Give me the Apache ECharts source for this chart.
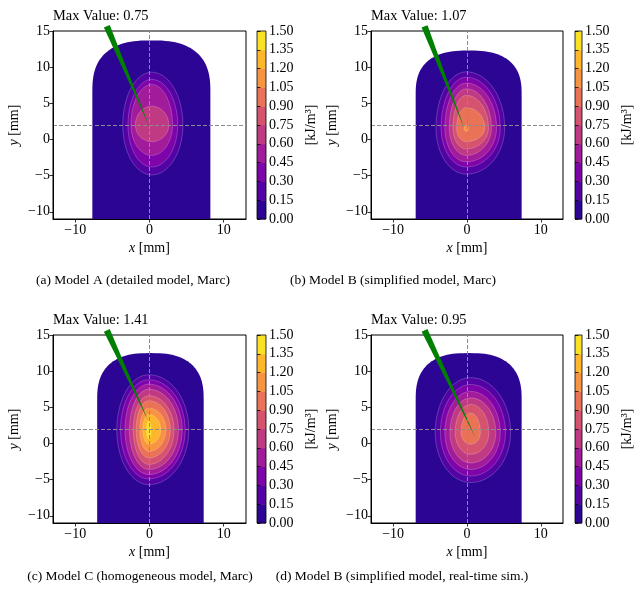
<!DOCTYPE html>
<html>
<head>
<meta charset="utf-8">
<script src="https://cdn.jsdelivr.net/npm/echarts@6/dist/echarts.min.js"></script>
<style>
  html, body { margin: 0; padding: 0; background: #fff; }
  #chart { width: 635px; height: 595px; }
</style>
</head>
<body>
<div id="chart"></div>
<script>
// colour levels of the contour plot (colorbar ticks)
const levels = [0, 0.15, 0.3, 0.45, 0.6, 0.75, 0.9, 1.05, 1.2, 1.35, 1.5];
const xTicks = [-10, 0, 10];
const yTicks = [-10, -5, 0, 5, 10, 15];

const maxValues = [0.75, 1.07, 1.41, 0.95];
const captions = [
    '(a) Model A (detailed model, Marc)',
    '(b) Model B (simplified model, Marc)',
    '(c) Model C (homogeneous model, Marc)',
    '(d) Model B (simplified model, real-time sim.)'
];

// model domain: [left, right, y where straight sides end, top]
const domainA = [-7.7, 8.2, 6.6, 13.7];
const domainB = [-6.95, 7.4, 6.2, 12.3];
const domainC = [-7.05, 7.3, 6.0, 12.5];
const domainD = [-6.95, 7.4, 6.0, 12.5];

// centre of the hot spot [x, y]
const peakA = [0.3, 2.0];
const peakB = [-0.1, 1.6];
const peakC = [-0.1, 1.9];
const peakD = [0.5, 1.5];

// contour extents for levels 0.15, 0.30, ... : [xmin, xmax, ymin, ymax]
const contoursA = [
    [-3.6, 4.5, -4.9, 9.3],
    [-2.9, 3.8, -3.8, 8.3],
    [-2.5, 3.1, -2.2, 7.6],
    [-1.9, 2.6, -0.3, 4.6]
];
const contoursB = [
    [-4.2, 5.1, -4.8, 9.35],
    [-3.5, 4.5, -3.8, 8.6],
    [-3.0, 4.0, -3.1, 7.8],
    [-2.4, 3.3, -2.2, 7.0],
    [-1.9, 2.9, -1.3, 6.1],
    [-1.4, 2.4, -0.3, 4.4],
    [-0.4, 0.2, 1.1, 1.9]
];
const contoursC = [
    [-4.4, 5.3, -5.7, 9.5],
    [-3.9, 4.8, -4.9, 8.8],
    [-3.3, 4.4, -4.3, 8.2],
    [-2.7, 3.9, -3.6, 7.5],
    [-2.2, 3.3, -2.9, 6.6],
    [-1.8, 2.8, -2.0, 5.9],
    [-1.3, 2.2, -1.1, 4.9],
    [-0.9, 1.5, -0.1, 4.0],
    [-0.4, 0.2, 0.6, 3.1]
];
const contoursD = [
    [-4.3, 5.9, -5.4, 9.1],
    [-3.6, 5.2, -4.5, 8.15],
    [-3.0, 4.5, -3.6, 7.2],
    [-2.3, 3.9, -2.7, 6.3],
    [-1.6, 2.95, -1.5, 5.4],
    [-0.8, 1.8, -0.1, 4.2]
];

// probe needle: common upper end and tip per panel
const needleTop = [-5.75, 15.65];
const tipA = [0.0, 1.75];
const tipB = [-0.35, 1.55];
const tipC = [-0.2, 3.2];
const tipD = [1.15, 0.8];

// crosshair position
const crossX = 0;
const crossY = 2;

// plasma colours at the middle of each band
const bandColors = ['#2d0594', '#5302a3', '#7e03a8', '#a11b9b', '#c03a83',
    '#d5536f', '#e97257', '#f89441', '#feb72d', '#f7e225'];

const FONT = '"Liberation Serif", "DejaVu Serif", serif';

const panels = [
    { domain: domainA, peak: peakA, contours: contoursA, tip: tipA, left: 53, top: 31, w: 193, cb: 257 },
    { domain: domainB, peak: peakB, contours: contoursB, tip: tipB, left: 371, top: 31, w: 192, cb: 575 },
    { domain: domainC, peak: peakC, contours: contoursC, tip: tipC, left: 53, top: 335, w: 193, cb: 257 },
    { domain: domainD, peak: peakD, contours: contoursD, tip: tipD, left: 371, top: 335, w: 192, cb: 575 }
];
const PH = 188;

const fmtMinus = v => (v < 0 ? '\u2212' + Math.abs(v) : String(v));

function domainItem(params, api) {
    const l = api.value(0), r = api.value(1), sh = api.value(2), t = api.value(3);
    const mid = (l + r) / 2, rx = (r - l) / 2, ry = t - sh;
    const pts = [api.coord([l, -12])];
    const n = 2.6;
    for (let k = 0; k <= 60; k++) {
        const a = Math.PI - k / 60 * Math.PI;
        const c = Math.cos(a), s = Math.sin(a);
        const cx = Math.sign(c) * Math.pow(Math.abs(c), 2 / n);
        const sy = Math.pow(Math.abs(s), 2 / n);
        pts.push(api.coord([mid + rx * cx, sh + ry * sy]));
    }
    pts.push(api.coord([r, -12]));
    return { type: 'polygon', shape: { points: pts }, style: { fill: bandColors[0] } };
}

function contourItem(params, api) {
    const lvl = api.value(0), cx = api.value(1), cy = api.value(2);
    const x0 = api.value(3), x1 = api.value(4), y0 = api.value(5), y1 = api.value(6);
    const pts = [];
    for (let k = 0; k < 80; k++) {
        const a = k / 80 * 2 * Math.PI;
        const c = Math.cos(a), s = Math.sin(a);
        const rx = c >= 0 ? x1 - cx : cx - x0;
        const ry = s >= 0 ? y1 - cy : cy - y0;
        pts.push(api.coord([cx + rx * c, cy + ry * s]));
    }
    return {
        type: 'polygon', shape: { points: pts },
        style: { fill: bandColors[lvl], stroke: 'rgba(255,255,255,0.3)', lineWidth: 0.7 }
    };
}

function needleItem(params, api) {
    const p0 = api.coord([api.value(0), api.value(1)]);
    const p1 = api.coord([api.value(2), api.value(3)]);
    const dx = p1[0] - p0[0], dy = p1[1] - p0[1];
    const len = Math.sqrt(dx * dx + dy * dy);
    const nx = -dy / len * 3.2, ny = dx / len * 3.2;
    return {
        type: 'polygon',
        shape: { points: [[p0[0] + nx, p0[1] + ny], [p0[0] - nx, p0[1] - ny], p1] },
        style: { fill: '#008000' }
    };
}

function colorbarItem(params, api) {
    const idx = api.value(2);
    const a = api.coord([0, api.value(0)]);
    const b = api.coord([1, api.value(1)]);
    if (idx < 0) {
        return { type: 'rect', shape: { x: a[0], y: b[1], width: b[0] - a[0], height: a[1] - b[1] },
            style: { fill: 'none', stroke: '#000', lineWidth: 0.8 } };
    }
    return { type: 'rect', shape: { x: a[0], y: b[1], width: b[0] - a[0], height: a[1] - b[1] + 0.5 },
        style: { fill: bandColors[idx] } };
}

const grid = [], xAxis = [], yAxis = [], series = [], title = [], graphic = [];
const tickStyle = { show: true, inside: false, length: 3.5, lineStyle: { color: '#000', width: 0.8 } };

panels.forEach((p, i) => {
    const gi = i * 2, ci = i * 2 + 1;
    grid.push({ left: p.left, top: p.top, width: p.w, height: PH, show: true,
        borderColor: '#000', borderWidth: 1, backgroundColor: 'transparent' });
    grid.push({ left: p.cb, top: p.top, width: 9, height: PH });

    xAxis.push({
        gridIndex: gi, type: 'value', min: -13, max: 13, z: 10,
        axisLine: { show: true, onZero: false, lineStyle: { color: '#000', width: 1 } },
        axisTick: Object.assign({ customValues: xTicks }, tickStyle),
        axisLabel: { customValues: xTicks, formatter: fmtMinus, color: '#000', fontFamily: FONT, fontSize: 14, margin: 4 },
        splitLine: { show: false },
        name: '{i|x} [mm]', nameLocation: 'middle', nameGap: 22,
        nameTextStyle: { color: '#000', fontFamily: FONT, fontSize: 14,
            rich: { i: { fontStyle: 'italic', fontFamily: FONT, fontSize: 14, color: '#000' } } }
    });
    yAxis.push({
        gridIndex: gi, type: 'value', min: -11, max: 15, z: 10,
        axisLine: { show: true, onZero: false, lineStyle: { color: '#000', width: 1 } },
        axisTick: Object.assign({ customValues: yTicks }, tickStyle),
        axisLabel: { customValues: yTicks, formatter: fmtMinus, color: '#000', fontFamily: FONT, fontSize: 14, margin: 3 },
        splitLine: { show: false },
        name: '{i|y} [mm]', nameLocation: 'middle', nameGap: 32,
        nameTextStyle: { color: '#000', fontFamily: FONT, fontSize: 14,
            rich: { i: { fontStyle: 'italic', fontFamily: FONT, fontSize: 14, color: '#000' } } }
    });
    xAxis.push({ gridIndex: ci, type: 'value', min: 0, max: 1, show: false });
    yAxis.push({
        gridIndex: ci, type: 'value', min: 0, max: 1.5, interval: 0.15, position: 'right', z: 10,
        axisLine: { show: false },
        axisTick: tickStyle,
        axisLabel: { formatter: v => v.toFixed(2), color: '#000', fontFamily: FONT, fontSize: 14, margin: 3 },
        splitLine: { show: false },
        name: '[kJ/m\u00b3]', nameLocation: 'middle', nameGap: 38, nameRotate: 90,
        nameTextStyle: { color: '#000', fontFamily: FONT, fontSize: 14 }
    });

    series.push({
        type: 'custom', xAxisIndex: gi, yAxisIndex: gi, clip: true, z: 1, silent: true,
        renderItem: domainItem, data: [p.domain]
    });
    series.push({
        type: 'custom', xAxisIndex: gi, yAxisIndex: gi, clip: true, z: 2, silent: true,
        renderItem: contourItem,
        data: p.contours.map((c, k) => [k + 1, p.peak[0], p.peak[1], c[0], c[1], c[2], c[3]])
    });
    series.push({
        type: 'custom', xAxisIndex: gi, yAxisIndex: gi, clip: true, z: 3, silent: true,
        renderItem: () => null, data: [[0, 0]],
        markLine: {
            silent: true, symbol: 'none', animation: false, label: { show: false },
            lineStyle: { color: '#8c8c8c', type: [4, 2], width: 1 },
            data: [{ xAxis: crossX }, { yAxis: crossY }]
        }
    });
    series.push({
        type: 'custom', xAxisIndex: gi, yAxisIndex: gi, clip: false, z: 4, silent: true,
        renderItem: needleItem,
        data: [[needleTop[0], needleTop[1], p.tip[0], p.tip[1]]]
    });

    const cbData = [];
    for (let k = 0; k < levels.length - 1; k++) cbData.push([levels[k], levels[k + 1], k]);
    cbData.push([0, 1.5, -1]);
    series.push({
        type: 'custom', xAxisIndex: ci, yAxisIndex: ci, clip: false, silent: true,
        renderItem: colorbarItem, data: cbData
    });

    title.push({
        text: 'Max Value: ' + maxValues[i].toFixed(2), left: p.left, top: p.top - 22, padding: 0,
        textStyle: { color: '#000', fontFamily: FONT, fontSize: 14.4, fontWeight: 'normal' }
    });
});

const capPos = [[133, 280], [393, 280], [140, 576], [402, 576]];
captions.forEach((t, i) => {
    graphic.push({
        type: 'text', x: capPos[i][0], y: capPos[i][1],
        style: { text: t, textAlign: 'center', textVerticalAlign: 'middle', font: '13.5px ' + FONT, fill: '#000' }
    });
});

const chart = echarts.init(document.getElementById('chart'));
chart.setOption({
    animation: false,
    backgroundColor: '#fff',
    title: title,
    grid: grid,
    xAxis: xAxis,
    yAxis: yAxis,
    graphic: graphic,
    series: series
});
</script>
</body>
</html>
